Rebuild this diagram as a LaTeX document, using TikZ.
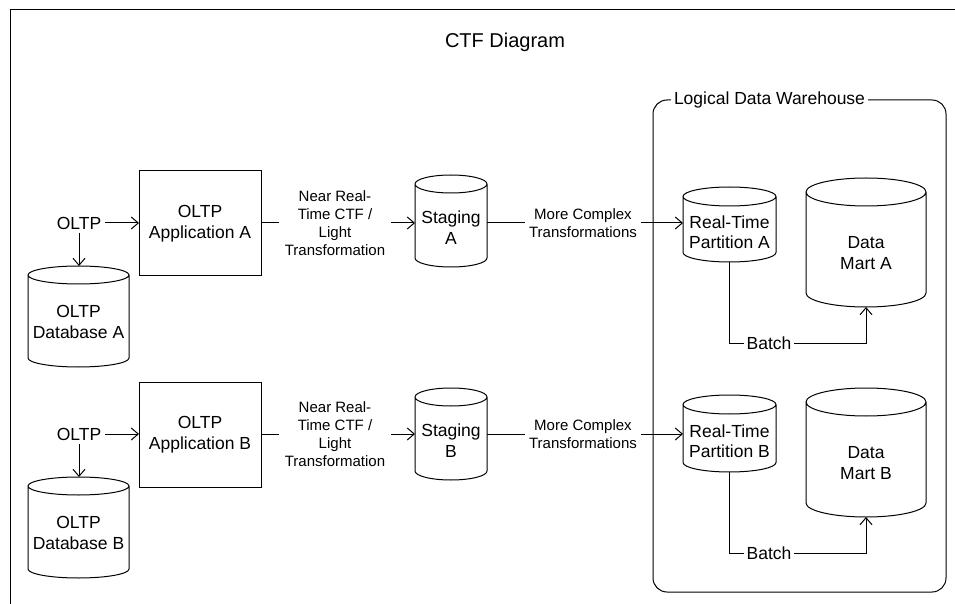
\documentclass[tikz,border=0pt]{standalone}
\usepackage{fontspec}
\setmainfont{Liberation Sans}
\usetikzlibrary{arrows.meta,calc}
\newcommand\fmain{\fontsize{17.5}{20.5}\selectfont}
\newcommand\flab{\fontsize{15}{18}\selectfont}
\newcommand\ftitle{\fontsize{20}{24}\selectfont}
% name, cx, cy, w, h, ry, text-dy, text
\newcommand\dbcyl[8]{%
  \node[draw=none, minimum width=#4pt, minimum height=#5pt, inner sep=0pt, outer sep=0pt] (#1) at (#2,#3) {};
  \draw[ln] ($(#1.north west)+(0,-#6)$) -- ($(#1.south west)+(0,#6)$)
     arc[start angle=180, end angle=360, x radius={0.5*#4pt}, y radius=#6pt]
     -- ($(#1.north east)+(0,-#6)$)
     arc[start angle=0, end angle=180, x radius={0.5*#4pt}, y radius=#6pt]
     arc[start angle=180, end angle=360, x radius={0.5*#4pt}, y radius=#6pt];
  \node[font=\fmain, align=center, inner sep=0pt] (#1-t) at ($(#1)+(0,-#7)$) {#8};
}
\begin{document}
\begin{tikzpicture}[x=1pt,y=1pt,
  ln/.style={line width=1pt, draw=black},
  arr/.style={ln, -{Straight Barb[length=7pt,width=12pt]}},
  box/.style={ln, minimum width=122pt, minimum height=105pt, inner sep=0pt, outer sep=0pt, font=\fmain, align=center},
  txt/.style={font=\fmain, inner sep=4pt, outer sep=0pt},
  nrlab/.style={font=\flab, align=center, inner xsep=6pt, outer sep=0pt},
  mclab/.style={font=\flab, align=center, inner xsep=4.5pt, outer sep=0pt},
  batchlab/.style={font=\fmain, inner xsep=3pt, outer sep=0pt},
  whlab/.style={font=\fmain, fill=white, inner xsep=3pt, inner ysep=1pt}
]
\useasboundingbox (0,0) rectangle (955,603);
\fill[white] (0,0) rectangle (955,603);
% frame
\draw[ln] (10,-2) -- (10,593) -- (957,593);
% title
\node[font=\ftitle] (title) at (505,561) {CTF Diagram};

% warehouse
\draw[ln, rounded corners=14pt] (653,11) rectangle (946,503);
\node[whlab] (wh) at (769.5,503) {Logical Data Warehouse};

% ---------- Row A ----------
\node[txt] (oltpA) at (79,380) {OLTP};
\node[box] (appA) at (200,379.5) {OLTP\\Application A};
\dbcyl{dbA}{78.5}{286.5}{101}{101}{9}{5.5}{OLTP\\Database A}
\node[nrlab] (nrA) at (335,380) {Near Real-\\Time CTF /\\Light\\Transformation};
\dbcyl{stA}{451}{382}{72}{92}{9}{6.5}{Staging\\A}
\node[mclab] (mcA) at (583,380) {More Complex\\Transformations};
\dbcyl{pA}{729.5}{378.5}{93}{75}{9.5}{7.5}{Real-Time\\Partition A}
\dbcyl{dmA}{866}{360.5}{120}{129}{14}{10.5}{Data\\Mart A}
\node[batchlab] (batchA) at (769,260) {Batch};

\draw[arr] (oltpA.east) -- (oltpA.east -| appA.west);
\draw[arr] (oltpA.south) -- (oltpA.south |- dbA.north);
\draw[ln] (appA.east |- nrA.west) -- (nrA.west);
\draw[arr] (nrA.east) -- (nrA.east -| stA.west);
\draw[ln] (stA.east |- mcA.west) -- (mcA.west);
\draw[arr] (mcA.east) -- (mcA.east -| pA.west);
\draw[ln] (pA.south) |- (batchA.west);
\draw[arr] (batchA.east) -| (dmA.south);

% ---------- Row B ----------
\node[txt] (oltpB) at (79,169) {OLTP};
\node[box] (appB) at (200,168.5) {OLTP\\Application B};
\dbcyl{dbB}{78.5}{75.5}{101}{101}{9}{5.5}{OLTP\\Database B}
\node[nrlab] (nrB) at (335,169) {Near Real-\\Time CTF /\\Light\\Transformation};
\dbcyl{stB}{451}{169}{72}{92}{9}{6.5}{Staging\\B}
\node[mclab] (mcB) at (583,169) {More Complex\\Transformations};
\dbcyl{pB}{729.5}{169.5}{93}{77}{9.5}{7.5}{Real-Time\\Partition B}
\dbcyl{dmB}{866}{150.5}{120}{129}{14}{10.5}{Data\\Mart B}
\node[batchlab] (batchB) at (769,50) {Batch};

\draw[arr] (oltpB.east) -- (oltpB.east -| appB.west);
\draw[arr] (oltpB.south) -- (oltpB.south |- dbB.north);
\draw[ln] (appB.east |- nrB.west) -- (nrB.west);
\draw[arr] (nrB.east) -- (nrB.east -| stB.west);
\draw[ln] (stB.east |- mcB.west) -- (mcB.west);
\draw[arr] (mcB.east) -- (mcB.east -| pB.west);
\draw[ln] (pB.south) |- (batchB.west);
\draw[arr] (batchB.east) -| (dmB.south);
\end{tikzpicture}
\end{document}
